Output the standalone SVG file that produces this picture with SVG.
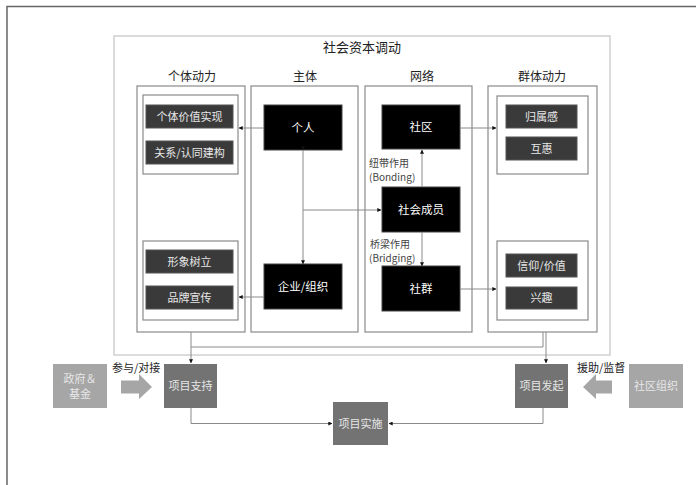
<svg xmlns="http://www.w3.org/2000/svg" width="696" height="485" viewBox="0 0 696 485">
<style>
text{font-family:"Noto Sans CJK SC","Noto Sans",sans-serif;text-anchor:middle;}
.hdr{font-size:12px;fill:#222;}
.col{fill:#fff;stroke:#8a8a8a;stroke-width:1.2;}
.inner{fill:#fff;stroke:#8a8a8a;stroke-width:1.2;}
.item{fill:#3a3a3a;stroke:#555;stroke-width:1;}
.itxt{font-size:11px;fill:#e8e8e8;}
.blk{fill:#000;stroke:#444;stroke-width:1;}
.btxt{font-size:11.5px;fill:#fff;}
.ln{fill:none;stroke:#8a8a8a;stroke-width:1;}
.lbl{font-size:10px;fill:#444;text-anchor:start;}
.dark{fill:#737373;}
.light{fill:#a6a6a6;}
.gtxt{font-size:11px;fill:#e6e6e6;}
</style>
<defs>
<marker id="ah" viewBox="0 0 6 6" refX="5.5" refY="3" markerWidth="4" markerHeight="4" orient="auto">
<path d="M0,0 L6,3 L0,6 Z" fill="#111"/>
</marker>
</defs>
<rect width="696" height="485" fill="#fff"/>
<path d="M7,485 V6.5 H696" fill="none" stroke="#666" stroke-width="1.5"/>

<g id="container">
<rect x="114" y="36" width="496" height="319" fill="#fff" stroke="#d0d0d0" stroke-width="1.5"/>
<text x="362" y="52" style="font-size:13px;fill:#222">社会资本调动</text>
</g>

<g id="col-individual">
<text class="hdr" x="192" y="81">个体动力</text>
<rect class="col" x="137" y="86" width="108" height="246"/>
<rect class="inner" x="143" y="95" width="95" height="79"/>
<rect class="inner" x="143" y="241" width="95" height="79"/>
</g>
<g id="n-value"><rect class="item" x="146" y="105" width="87" height="23"/><text class="itxt" x="189.5" y="120.5">个体价值实现</text></g>
<g id="n-identity"><rect class="item" x="146" y="141" width="87" height="23"/><text class="itxt" x="189.5" y="156.5">关系/认同建构</text></g>
<g id="n-image"><rect class="item" x="146" y="250" width="87" height="23"/><text class="itxt" x="189.5" y="265.5">形象树立</text></g>
<g id="n-brand"><rect class="item" x="146" y="286" width="87" height="23"/><text class="itxt" x="189.5" y="301.5">品牌宣传</text></g>

<g id="col-subject">
<text class="hdr" x="305" y="81">主体</text>
<rect class="col" x="251" y="86" width="107" height="246"/>
</g>
<g id="n-person"><rect class="blk" x="264" y="105" width="78" height="45"/><text class="btxt" x="303" y="132">个人</text></g>
<g id="n-org"><rect class="blk" x="264" y="264" width="78" height="45"/><text class="btxt" x="303" y="291">企业/组织</text></g>

<g id="col-network">
<text class="hdr" x="422" y="81">网络</text>
<rect class="col" x="365" y="86" width="107" height="246"/>
</g>
<g id="n-community"><rect class="blk" x="382" y="105" width="78" height="44"/><text class="btxt" x="421" y="131">社区</text></g>
<g id="n-member"><rect class="blk" x="382" y="187" width="78" height="45"/><text class="btxt" x="421" y="214">社会成员</text></g>
<g id="n-group"><rect class="blk" x="382" y="266" width="78" height="45"/><text class="btxt" x="421" y="293">社群</text></g>

<g id="col-group">
<text class="hdr" x="542" y="81">群体动力</text>
<rect class="col" x="488" y="86" width="109" height="246"/>
<rect class="inner" x="497" y="96" width="91" height="78"/>
<rect class="inner" x="497" y="241" width="91" height="79"/>
</g>
<g id="n-belong"><rect class="item" x="506" y="105" width="71" height="23"/><text class="itxt" x="541.5" y="120.5">归属感</text></g>
<g id="n-recip"><rect class="item" x="506" y="137" width="71" height="23"/><text class="itxt" x="541.5" y="152.5">互惠</text></g>
<g id="n-belief"><rect class="item" x="506" y="254" width="71" height="23"/><text class="itxt" x="541.5" y="269.5">信仰/价值</text></g>
<g id="n-interest"><rect class="item" x="506" y="287" width="71" height="22"/><text class="itxt" x="541.5" y="302">兴趣</text></g>

<g id="n-gov"><rect class="light" x="53" y="364" width="54" height="44"/><text class="gtxt" x="80" y="383">政府＆</text><text class="gtxt" x="80" y="398">基金</text></g>
<g id="n-support"><rect class="dark" x="164" y="364" width="53" height="44"/><text class="gtxt" x="190.5" y="390">项目支持</text></g>
<g id="n-impl"><rect class="dark" x="333" y="402" width="55" height="43"/><text class="gtxt" x="360.5" y="427.5">项目实施</text></g>
<g id="n-launch"><rect class="dark" x="515" y="364" width="53" height="44"/><text class="gtxt" x="541.5" y="390">项目发起</text></g>
<g id="n-commorg"><rect class="light" x="629" y="364" width="54" height="44"/><text class="gtxt" x="656" y="390">社区组织</text></g>

<g id="connectors">
<path class="ln" d="M264,128 H239" marker-end="url(#ah)"/>
<path class="ln" d="M264,297 H239" marker-end="url(#ah)"/>
<path class="ln" d="M303,150 V264" marker-start="url(#ah)" marker-end="url(#ah)"/>
<path class="ln" d="M303,210 H381" marker-end="url(#ah)"/>
<path class="ln" d="M422,187 V150" marker-end="url(#ah)"/>
<path class="ln" d="M422,232 V266" marker-end="url(#ah)"/>
<path class="ln" d="M460,128 H496" marker-end="url(#ah)"/>
<path class="ln" d="M460,289 H496" marker-end="url(#ah)"/>
<path class="ln" d="M543,332 V347 H191"/>
<path class="ln" d="M191,332 V363" marker-end="url(#ah)"/>
<path class="ln" d="M546,332 V363" marker-end="url(#ah)"/>
<path class="ln" d="M191,408 V423.5 H332" marker-end="url(#ah)"/>
<path class="ln" d="M543,408 V423.5 H389" marker-end="url(#ah)"/>
<polygon points="121,380.5 139,380.5 139,374 152,387 139,399 139,393.5 121,393.5" fill="#a6a6a6"/>
<text class="lbl" x="112" y="372" style="fill:#222;font-size:11px">参与/对接</text>
<polygon points="612,380.5 596,380.5 596,374 583,387 596,399 596,393.5 612,393.5" fill="#a6a6a6"/>
<text class="lbl" x="577" y="372" style="fill:#222;font-size:11px">援助/监督</text>
<text class="lbl" x="369" y="167">纽带作用</text>
<text class="lbl" x="369" y="181">(Bonding)</text>
<text class="lbl" x="370" y="248">桥梁作用</text>
<text class="lbl" x="369" y="262">(Bridging)</text>
</g>
</svg>
